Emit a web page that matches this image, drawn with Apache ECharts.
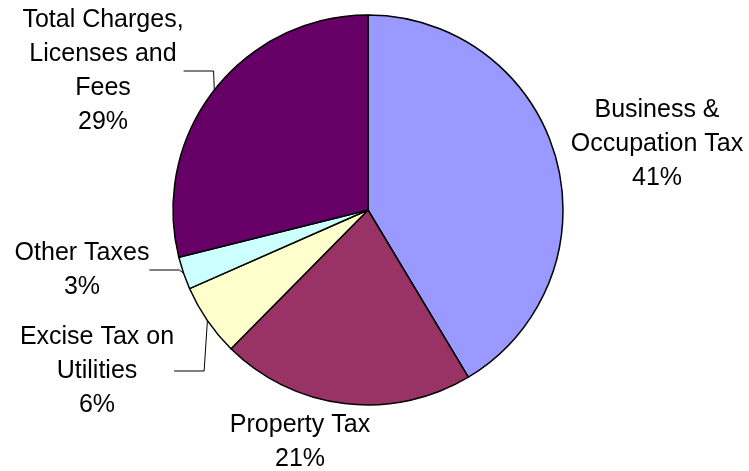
<!DOCTYPE html>
<html>
<head>
<meta charset="utf-8">
<script src="https://cdn.jsdelivr.net/npm/echarts@6/dist/echarts.min.js"></script>
<style>
    html, body { margin: 0; padding: 0; background: #fff; }
    #chartBlock { width: 749px; height: 471px; }
</style>
</head>
<body>
<div id="chartBlock"></div>
<script>
const categories = ['Business &\nOccupation Tax', 'Property Tax', 'Excise Tax on\nUtilities', 'Other Taxes', 'Total Charges,\nLicenses and\nFees'];
const shares = [41.4, 21.0, 6.0, 2.7, 28.9];
const sliceColors = ['#9999FF', '#993366', '#FFFFCC', '#CCFFFF', '#660066'];
const showLine = [false, false, true, true, true];

// where each label block sits (centre of text)
const labelSpots = [[657, 144], [300, 442], [97, 371], [82, 270], [103, 71]];

const chartBlock = document.querySelector('#chartBlock');

let pieData = [];
categories.forEach((item, index) => {
    pieData[index] = {
        name: item,
        value: shares[index],
        itemStyle: {color: sliceColors[index]},
        labelLine: {show: showLine[index]}
    };
});

let option = {
    animation: false,
    series: [
        {
            type: 'pie',
            center: [368, 210],
            radius: 195,
            startAngle: 90,
            clockwise: true,
            itemStyle: {
                borderColor: '#000',
                borderWidth: 1.5
            },
            label: {
                show: true,
                position: 'outside',
                overflow: 'none',
                color: '#000',
                fontFamily: 'Liberation Sans, Arial, sans-serif',
                fontSize: 25,
                lineHeight: 34,
                align: 'center',
                formatter: function (p) {
                    return p.name + '\n' + Math.round(p.percent) + '%';
                }
            },
            labelLine: {
                lineStyle: {color: '#000', width: 1}
            },
            labelLayout: function (p) {
                let spot = labelSpots[p.dataIndex];
                return {
                    x: spot[0],
                    y: spot[1],
                    align: 'center',
                    verticalAlign: 'middle'
                };
            },
            data: pieData
        }
    ]
};

let myChart = echarts.init(chartBlock);
myChart.setOption(option);
</script>
</body>
</html>
